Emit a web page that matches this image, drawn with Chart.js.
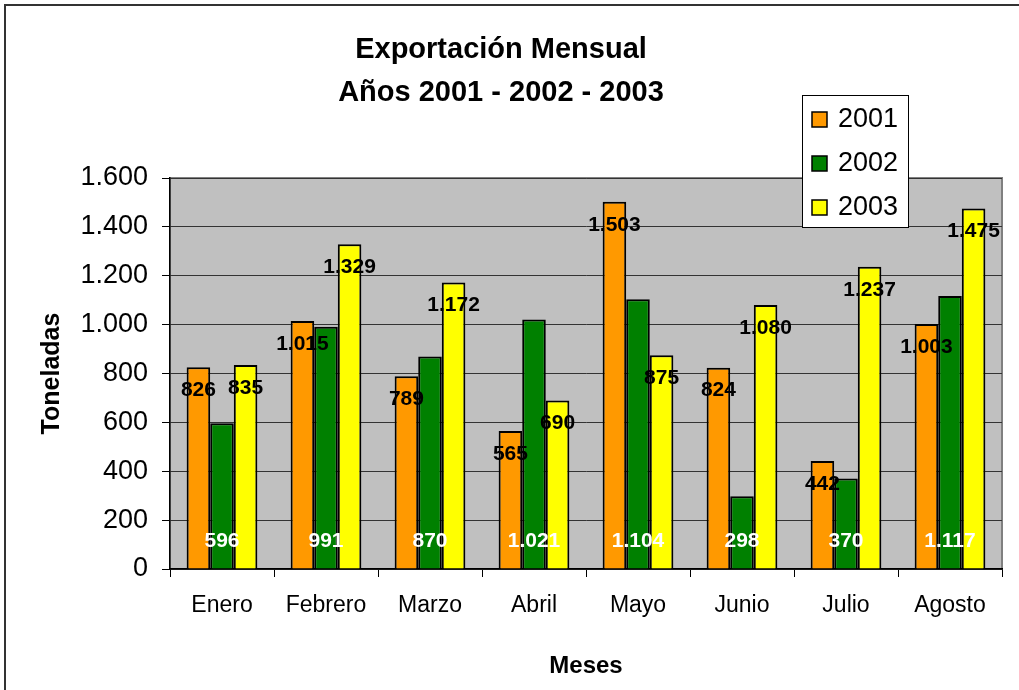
<!DOCTYPE html>
<html lang="es">
  <head>
    <meta charset="UTF-8" />
    <title>Exportación Mensual</title>
    <script src="https://cdn.jsdelivr.net/npm/chart.js@4.4.0/dist/chart.umd.min.js"></script>
    <style>
      body { margin: 0; background: #fff; }
      #wrap { width: 1019px; height: 690px; }
    </style>
  </head>
  <body>
    <div id="wrap">
      <canvas id="myChart" width="1019" height="690"></canvas>
    </div>

    <script>
      // meses
      const months = ["Enero", "Febrero", "Marzo", "Abril", "Mayo", "Junio", "Julio", "Agosto"];
      // toneladas por año
      const years = ["2001", "2002", "2003"];
      const tons2001 = [826, 1015, 789, 565, 1503, 824, 442, 1003];
      const tons2002 = [596, 991, 870, 1021, 1104, 298, 370, 1117];
      const tons2003 = [835, 1329, 1172, 690, 875, 1080, 1237, 1475];
      // eje y
      const yTicks = [0, 200, 400, 600, 800, 1000, 1200, 1400, 1600];

      const barColors = ["#FF9900", "#008000", "#FFFF00"];
      const font = "'Liberation Sans', Arial, sans-serif";

      // 1.015 style thousands separator
      function fmt(v) {
        return String(v).replace(/\B(?=(\d{3})+(?!\d))/g, ".");
      }

      // gray plot background + outer frame
      const plotBg = {
        id: "plotBg",
        beforeDraw(chart) {
          const c = chart.ctx;
          const a = chart.chartArea;
          c.save();
          c.fillStyle = "#fff";
          c.fillRect(0, 0, chart.width, chart.height);
          c.fillStyle = "#C0C0C0";
          c.fillRect(a.left, a.top, a.right - a.left, a.bottom - a.top);
          c.strokeStyle = "#808080";
          c.lineWidth = 2;
          c.strokeRect(a.left, a.top, a.right - a.left, a.bottom - a.top);
          // frame of the whole picture
          c.strokeStyle = "#333";
          c.lineWidth = 2;
          c.beginPath();
          c.moveTo(5, chart.height);
          c.lineTo(5, 5);
          c.lineTo(chart.width, 5);
          c.stroke();
          c.restore();
        },
      };

      // value labels on the bars
      const barLabels = {
        id: "barLabels",
        afterDatasetsDraw(chart) {
          const c = chart.ctx;
          c.save();
          c.font = "bold 21px " + font;
          c.textAlign = "center";
          c.textBaseline = "middle";
          chart.data.datasets.forEach((ds, i) => {
            const meta = chart.getDatasetMeta(i);
            meta.data.forEach((bar, j) => {
              const txt = fmt(ds.data[j]);
              if (i === 1) {
                c.fillStyle = "#fff";
                c.fillText(txt, bar.x, bar.base - 27);
              } else {
                c.fillStyle = "#000";
                c.fillText(txt, bar.x, bar.y + 23);
              }
            });
          });
          c.restore();
        },
      };

      // legend box sitting over the top right of the plot
      const boxLegend = {
        id: "boxLegend",
        afterDraw(chart) {
          const c = chart.ctx;
          const x = 802, y = 95, w = 106, h = 132;
          c.save();
          c.fillStyle = "#fff";
          c.fillRect(x, y, w, h);
          c.strokeStyle = "#000";
          c.lineWidth = 1;
          c.strokeRect(x + 0.5, y + 0.5, w, h);
          c.font = "27px " + font;
          c.textBaseline = "middle";
          chart.data.datasets.forEach((ds, i) => {
            const cy = 119 + i * 44;
            c.fillStyle = ds.backgroundColor;
            c.fillRect(812, cy - 7, 15, 15);
            c.strokeStyle = "#000";
            c.lineWidth = 1.5;
            c.strokeRect(812, cy - 7, 15, 15);
            c.fillStyle = "#000";
            c.fillText(ds.label, 838, cy + 1);
          });
          c.restore();
        },
      };

      const ctx = document.getElementById("myChart").getContext("2d");

      const myChart = new Chart(ctx, {
        type: "bar",
        data: {
          labels: months,
          datasets: [
            { label: years[0], data: tons2001, backgroundColor: barColors[0] },
            { label: years[1], data: tons2002, backgroundColor: barColors[1] },
            { label: years[2], data: tons2003, backgroundColor: barColors[2] },
          ],
        },
        options: {
          responsive: false,
          animation: false,
          layout: { padding: { top: 0, right: 17, bottom: 0, left: 0 } },
          datasets: {
            bar: {
              borderColor: "#000",
              borderWidth: 2,
              categoryPercentage: 0.68,
              barPercentage: 1.0,
            },
          },
          plugins: {
            legend: { display: false },
            tooltip: { enabled: false },
            title: {
              display: true,
              text: ["Exportación Mensual", "Años 2001 - 2002 - 2003"],
              color: "#000",
              font: { family: font, size: 29, weight: "bold", lineHeight: 1.5 },
              padding: { top: 28, bottom: 63 },
            },
          },
          scales: {
            x: {
              afterFit(scale) { scale.height = 121; },
              grid: {
                drawOnChartArea: false,
                drawTicks: true,
                tickLength: 8,
                color: "#000",
                lineWidth: 1,
              },
              border: { color: "#000", width: 1.5 },
              ticks: {
                color: "#000",
                font: { family: font, size: 23 },
                padding: 15,
              },
              title: {
                display: true,
                text: "Meses",
                color: "#000",
                font: { family: font, size: 24, weight: "bold" },
                padding: { top: 0, bottom: 9 },
              },
            },
            y: {
              min: 0,
              max: 1600,
              afterFit(scale) { scale.width = 170; },
              afterBuildTicks(scale) {
                scale.ticks = yTicks.map((v) => ({ value: v }));
              },
              grid: {
                color: "#333",
                lineWidth: 1,
                tickLength: 8,
                tickColor: "#000",
              },
              border: { color: "#000", width: 1.5 },
              ticks: {
                color: "#000",
                font: { family: font, size: 27 },
                padding: 14,
                callback: (v) => fmt(v),
              },
              title: {
                display: true,
                text: "Toneladas",
                color: "#000",
                font: { family: font, size: 25, weight: "bold" },
                padding: { top: 37, bottom: 0 },
              },
            },
          },
        },
        plugins: [plotBg, barLabels, boxLegend],
      });
    </script>
  </body>
</html>
